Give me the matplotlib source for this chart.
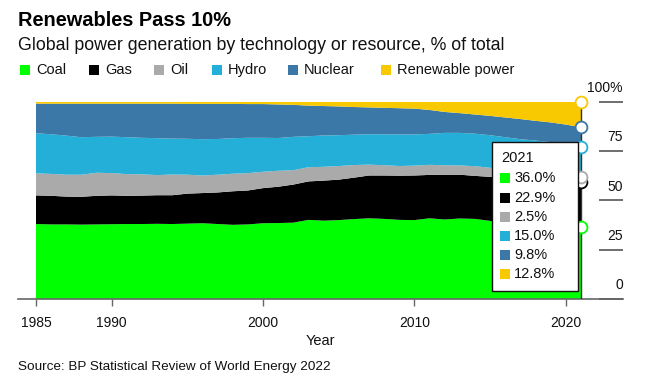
import numpy as np
import matplotlib
matplotlib.use("Agg")
import matplotlib.pyplot as plt
from matplotlib.patches import Rectangle

plt.rcParams['font.family'] = ['Liberation Sans', 'DejaVu Sans']

years = list(range(1985, 2022))
categories = ["Coal", "Gas", "Oil", "Hydro", "Nuclear", "Renewable power"]
colors = ["#00ff00", "#000000", "#aaaaaa", "#23afd8", "#3b78a8", "#f8c900"]

coal = [38.0, 37.8, 37.8, 37.7, 37.8, 37.9, 38.0, 38.0, 38.1, 38.0,
        38.2, 38.4, 38.0, 37.6, 37.8, 38.4, 38.5, 38.7, 40.1, 39.7,
        40.0, 40.5, 40.9, 40.6, 40.1, 40.0, 40.9, 40.3, 40.8, 40.6,
        39.6, 38.4, 38.3, 38.1, 36.8, 35.3, 36.0]
gas = [14.5, 14.5, 14.1, 14.1, 14.5, 14.6, 14.3, 14.4, 14.5, 14.6,
       15.2, 15.3, 16.0, 17.0, 17.2, 17.8, 18.4, 19.3, 19.5, 20.3,
       20.5, 21.0, 21.7, 22.0, 22.4, 22.6, 22.0, 22.7, 22.2, 21.8,
       22.3, 23.3, 23.2, 23.2, 23.4, 23.6, 22.9]
oil = [11.2, 11.1, 11.1, 11.2, 11.7, 11.3, 11.0, 10.8, 10.2, 10.5,
       9.6, 8.9, 9.0, 8.9, 8.8, 8.3, 8.1, 7.3, 7.2, 7.0,
       6.9, 6.4, 5.5, 5.2, 4.9, 5.0, 5.1, 4.8, 4.7, 4.9,
       4.6, 3.6, 3.3, 3.0, 3.1, 2.8, 2.5]
hydro = [20.3, 20.1, 19.8, 19.0, 18.2, 18.5, 18.7, 18.5, 18.7, 18.2,
         18.2, 18.4, 18.1, 18.0, 17.9, 17.2, 16.6, 16.9, 15.7, 15.9,
         15.6, 15.4, 15.4, 15.7, 16.0, 15.8, 15.7, 16.4, 16.5, 16.5,
         16.5, 16.7, 16.2, 16.0, 16.2, 16.4, 15.0]
nuclear = [15.0, 15.5, 16.2, 17.0, 16.8, 16.7, 17.0, 17.3, 17.5, 17.7,
           17.7, 17.9, 17.8, 17.4, 17.1, 17.1, 17.0, 16.2, 15.5, 14.9,
           14.6, 14.0, 13.6, 13.4, 13.3, 13.1, 12.1, 10.6, 10.0, 9.7,
           9.8, 10.0, 10.2, 10.0, 10.0, 10.3, 9.8]
renewables = [1.0, 1.0, 1.0, 1.0, 1.0, 1.0, 1.0, 1.0, 1.0, 1.0,
              1.1, 1.1, 1.1, 1.1, 1.2, 1.2, 1.4, 1.6, 2.0, 2.2,
              2.4, 2.7, 2.9, 3.1, 3.3, 3.5, 4.2, 5.2, 5.8, 6.5,
              7.2, 8.0, 8.8, 9.7, 10.5, 11.6, 12.8]

tooltip_year = "2021"
tooltip_labels = ["36.0%", "22.9%", "2.5%", "15.0%", "9.8%", "12.8%"]
xtick_years = [1985, 1990, 2000, 2010, 2020]
ytick_vals = [0, 25, 50, 75, 100]
ytick_labels = ["0", "25", "50", "75", "100%"]

W, H = 657, 386
fig = plt.figure(figsize=(W / 100, H / 100), dpi=100)

def fx(x):
    return x / W

def fy(y):
    return 1 - y / H

# axes: x pixel 18..623, y pixel 101.7..299
ax = fig.add_axes([fx(18), fy(299), (623 - 18) / W, (299 - 101.7) / H])
px_per_year = 15.14
x_left = 1985 - (36 - 18) / px_per_year
x_right = 1985 + (623 - 36) / px_per_year
ax.set_xlim(x_left, x_right)
ax.set_ylim(0, 100)

data = np.array([coal, gas, oil, hydro, nuclear, renewables], dtype=float)
shares = data / data.sum(axis=0) * 100
ax.stackplot(years, shares, colors=colors, linewidth=0, antialiased=True)

# hover line and markers at last year
last = years[-1]
ax.plot([last, last], [0, 100], color="#333333", lw=1.0, zorder=4)
cum = np.cumsum(shares[:, -1])
for c, v in zip(colors, cum):
    ax.plot([last], [v], marker="o", ms=8.5, mfc="white", mec=c, mew=1.3,
            zorder=6, clip_on=False)

# spines / ticks
for s in ["left", "right", "top"]:
    ax.spines[s].set_visible(False)
ax.spines["bottom"].set_color("#666666")
ax.spines["bottom"].set_linewidth(1.2)
ax.set_yticks([])
ax.set_xticks(xtick_years)
ax.set_xticklabels([str(y) for y in xtick_years], fontsize=10, color="#111111")
ax.tick_params(axis="x", length=5, width=1, color="#666666", pad=7)
ax.set_xlabel("Year", fontsize=10.5, color="#111111", labelpad=3)

# right value axis
ytr = ax.get_yaxis_transform()
frac0 = (599 - 18) / (623 - 18)
for v, lab in zip(ytick_vals, ytick_labels):
    ax.plot([frac0, 1.0], [v, v], transform=ytr, color="#555555", lw=1.2,
            clip_on=False, solid_capstyle="butt")
    ax.annotate(lab, xy=(1.0, v), xycoords=ytr, xytext=(0, 9.8),
                textcoords="offset points", ha="right", va="center",
                fontsize=10, color="#111111", annotation_clip=False)

# titles
fig.text(fx(18), fy(26), "Renewables Pass 10%", fontsize=14.4, fontweight="bold",
         ha="left", va="baseline", color="#000000")
fig.text(fx(18), fy(50), "Global power generation by technology or resource, % of total",
         fontsize=12.8, ha="left", va="baseline", color="#111111")

# top legend
leg_x = [20, 89, 154, 212, 288, 381]
for x0, c, lab in zip(leg_x, colors, categories):
    fig.add_artist(Rectangle((fx(x0), fy(75)), 10 / W, 10 / H, transform=fig.transFigure,
                             facecolor=c, edgecolor="none"))
    fig.text(fx(x0 + 16), fy(70), lab, fontsize=10.5, ha="left", va="center",
             color="#111111")

# tooltip box
bx0, bx1, by0, by1 = 492, 578, 142, 291
fig.add_artist(Rectangle((fx(bx0), fy(by1)), (bx1 - bx0) / W, (by1 - by0) / H,
                         transform=fig.transFigure, facecolor="white",
                         edgecolor="#111111", lw=1.0, zorder=10))
fig.text(fx(501), fy(158), tooltip_year, fontsize=10.5, ha="left", va="center",
         color="#111111", zorder=11)
for i, (c, lab) in enumerate(zip(colors, tooltip_labels)):
    yc = 178.3 + i * 19.2
    fig.add_artist(Rectangle((fx(500), fy(yc + 5)), 10 / W, 10 / H,
                             transform=fig.transFigure, facecolor=c,
                             edgecolor="none", zorder=11))
    fig.text(fx(514), fy(yc), lab, fontsize=10.5, ha="left", va="center",
             color="#111111", zorder=11)

# source
fig.text(fx(18), fy(367), "Source: BP Statistical Review of World Energy 2022",
         fontsize=9.7, ha="left", va="center", color="#111111")

fig.savefig("out.png", dpi=100)
